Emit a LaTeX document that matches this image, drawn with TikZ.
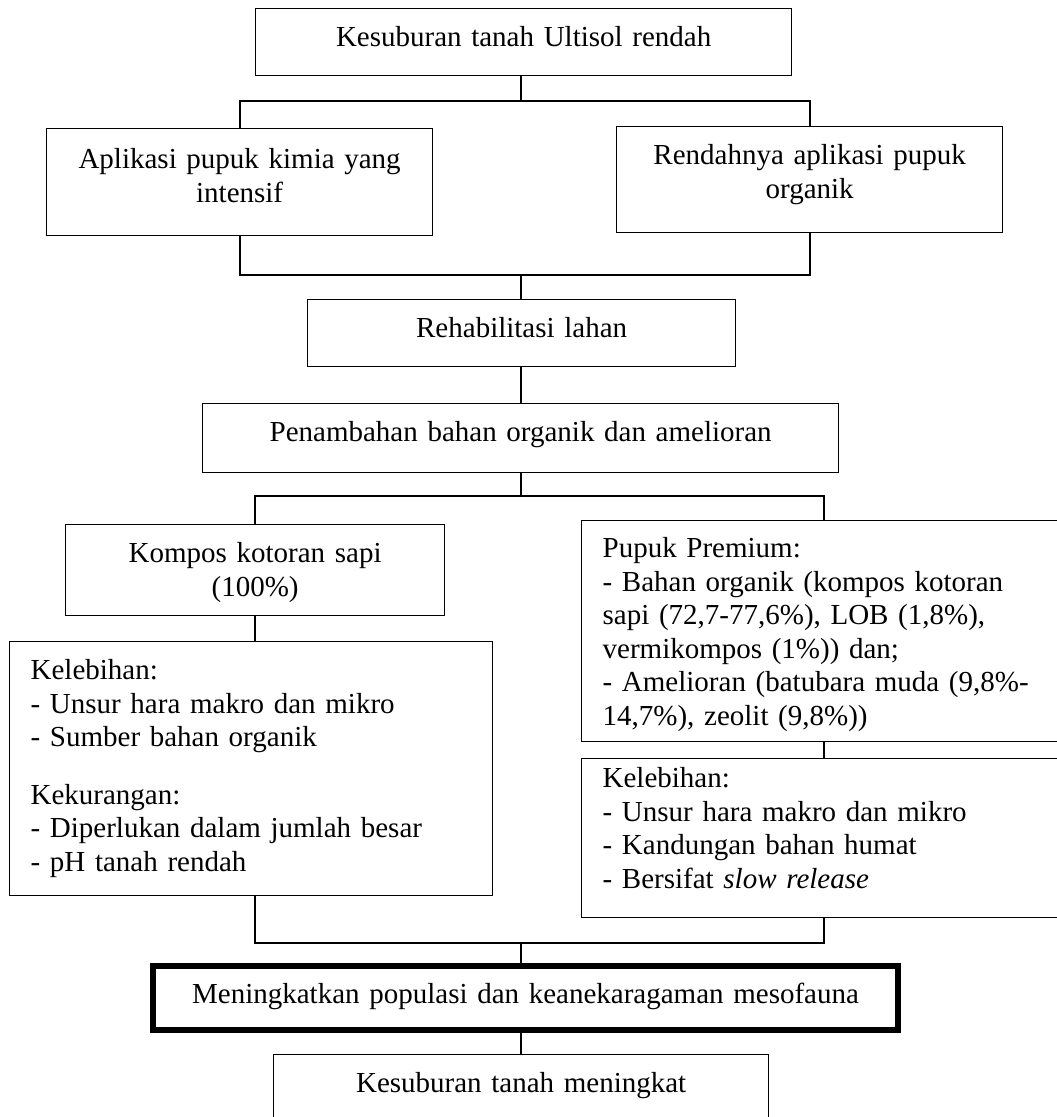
\documentclass[tikz,border=0pt]{standalone}
\usepackage{fontspec}
\setmainfont{Liberation Serif}
\begin{document}
\begin{tikzpicture}[x=1pt,y=-1pt,
  fnt/.style={font=\fontsize{29}{33.5}\selectfont},
  box/.style={draw, line width=1.3pt, fnt, inner ysep=0pt, anchor=north west, text height=38pt},
  cbox/.style={box, align=center, inner xsep=4pt},
  lbox/.style={box, align=left, inner xsep=21pt},
  conn/.style={line width=2pt}]
\useasboundingbox (0,0) rectangle (1057,1117);
\clip (0,0) rectangle (1057,1117);
\fill[white] (0,0) rectangle (1057,1117);

\node[cbox, text width=528pt, text depth=29pt] (b1) at (255,8) {Kesuburan tanah Ultisol rendah};
\node[cbox, text width=378pt, text height=40pt, text depth=67pt] (b2) at (46,128) {Aplikasi pupuk kimia yang\\intensif};
\node[cbox, text width=378pt, text depth=68pt] (b3) at (616,126) {Rendahnya aplikasi pupuk\\organik};
\node[cbox, text width=420pt, text depth=29pt] (b4) at (307,299) {Rehabilitasi lahan};
\node[cbox, text width=628pt, text depth=31pt] (b5) at (202,403) {Penambahan bahan organik dan amelioran};
\node[cbox, text width=371pt, text depth=53pt] (b6) at (65,524) {Kompos kotoran sapi\\(100\%)};
\node[lbox, text width=442pt, text height=37pt, text depth=184pt] (b7) at (581,520)
  {Pupuk Premium:\\- Bahan organik (kompos kotoran\\sapi (72,7-77,6\%), LOB (1,8\%),\\vermikompos (1\%)) dan;\\- Amelioran (batubara muda (9,8\%-\\14,7\%), zeolit (9,8\%))};
\node[lbox, text width=441pt, text depth=216pt] (b8) at (9,641)
  {Kelebihan:\\- Unsur hara makro dan mikro\\- Sumber bahan organik\\[24pt]Kekurangan:\\- Diperlukan dalam jumlah besar\\- pH tanah rendah};
\node[lbox, text width=442pt, text height=29pt, text depth=130pt] (b9) at (581,758)
  {Kelebihan:\\- Unsur hara makro dan mikro\\- Kandungan bahan humat\\- Bersifat \textit{slow release}};
\node[cbox, line width=6pt, text width=737pt, text height=37pt, text depth=27pt] (b10) at (150,963) {Meningkatkan populasi dan keanekaragaman mesofauna};
\node[cbox, text width=487pt, text depth=42pt] (b11) at (273,1054) {Kesuburan tanah meningkat};

\coordinate (h1) at (0,101);
\coordinate (h2) at (0,275);
\coordinate (h3) at (0,496);
\coordinate (h4) at (0,943);
\coordinate (mid) at (521,0);

\draw[conn] (b1.south -| mid) -- (mid |- h1);
\draw[conn] (b2.north) |- (b3.north |- h1) -- (b3.north);
\draw[conn] (b2.south) |- (b3.south |- h2) -- (b3.south);
\draw[conn] (mid |- h2) -- (b4.north -| mid);
\draw[conn] (b4.south -| mid) -- (b5.north -| mid);
\draw[conn] (b5.south -| mid) -- (mid |- h3);
\draw[conn] (b6.north) |- (b7.north |- h3) -- (b7.north);
\draw[conn] (b6.south) -- (b6.south |- b8.north);
\draw[conn] (b7.south) -- (b7.south |- b9.north);
\draw[conn] (b6.south |- b8.south) |- (b9.south |- h4) -- (b9.south);
\draw[conn] (mid |- h4) -- (b10.north -| mid);
\draw[conn] (b10.south -| mid) -- (b11.north -| mid);
\end{tikzpicture}
\end{document}
